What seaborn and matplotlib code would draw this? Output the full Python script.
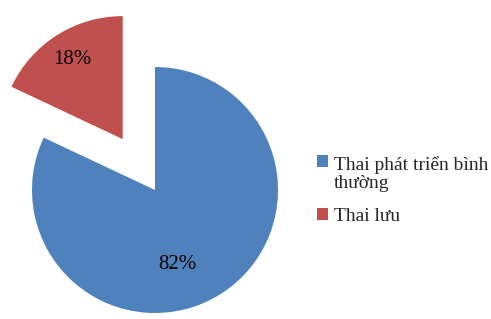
import matplotlib
matplotlib.use("Agg")
import matplotlib.pyplot as plt
from matplotlib.patches import Rectangle
from matplotlib.legend_handler import HandlerPatch
import seaborn as sns
import numpy as np

sns.set_theme(style="white")
plt.rcParams['font.family'] = 'Liberation Serif'

# data
categories = ["Thai phát triển bình\nthường", "Thai lưu"]
values = [82, 18]
colors = ["#4F81BD", "#C0504D"]

W, H = 491, 319
fig = plt.figure(figsize=(W / 100, H / 100), dpi=100)
# unit circle of the pie mapped onto pixel box (centre 155,190 ; r 123)
cx, cy, r = 155, 190, 123
ax = fig.add_axes([(cx - r) / W, (H - cy - r) / H, 2 * r / W, 2 * r / H])

# draw red first (counter-clockwise from 12 o'clock) then blue
order = [1, 0]
wedges, texts, autotexts = ax.pie(
    [values[i] for i in order],
    colors=[colors[i] for i in order],
    startangle=90,
    explode=[0.49, 0],
    autopct="%d%%",
    pctdistance=0.77,
    textprops=dict(fontsize=15, color="black"),
    wedgeprops=dict(linewidth=0),
)
for w in wedges:
    w.set_clip_on(False)
# Excel-like placement of the big slice label
ang = np.deg2rad(-73)
autotexts[1].set_position((0.63 * np.cos(ang), 0.63 * np.sin(ang)))
ax.set_xlim(-1, 1)
ax.set_ylim(-1, 1)
ax.axis("off")

FS = 14
LS = 1.1


def top_square(legend, orig_handle, xdescent, ydescent, width, height, fontsize):
    # keep the marker next to the first line of a wrapped label
    return Rectangle((-xdescent, -ydescent + fontsize * 1.15 * LS / 2), width, height)


leg = fig.legend(
    [wedges[1], wedges[0]], categories,
    loc="upper left", bbox_to_anchor=(317 / W, 1 - 156 / H),
    frameon=False, handlelength=0.57, handleheight=0.57,
    handletextpad=0.3, labelspacing=0.8, borderpad=0, borderaxespad=0,
    prop=dict(size=FS),
    handler_map={wedges[1]: HandlerPatch(patch_func=top_square)},
)
for t in leg.get_texts():
    t.set_linespacing(LS)

fig.savefig("out.png", dpi=100)
